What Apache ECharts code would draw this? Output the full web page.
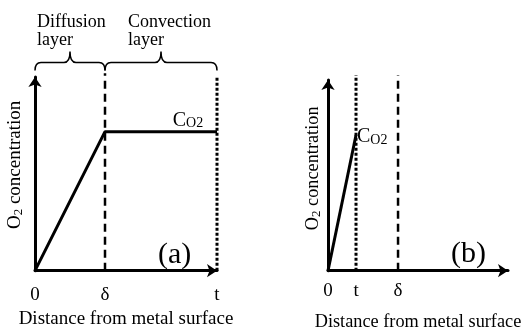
<!DOCTYPE html>
<html>
<head>
<meta charset="utf-8">
<script src="https://cdn.jsdelivr.net/npm/echarts@6/dist/echarts.min.js"></script>
<style>html,body{margin:0;padding:0;background:#fff}#c{width:522px;height:332px}</style>
</head>
<body>
<div id="c"></div>
<script>
// ---- data (schematic units: delta = 1, concentration C_O2 = 1) ----
const profileA = [[0, 0], [1, 1], [2.6, 1]];       // panel (a): diffusion then plateau
const profileB = [[0, 0], [0.4, 1]];               // panel (b): thin film t < delta
const deltaA = 1, tA = 2.6;
const deltaB = 1, tB = 0.4;
const ticksA = [0, 1, 2.6];
const tickLabelsA = ['0', 'δ', 't'];
const ticksB = [0, 0.4, 1];
const tickLabelsB = ['0', 't', 'δ'];
const bracesA = [[0, 1], [1, 2.6]];                // diffusion layer, convection layer spans
const xMaxA = 2.6, xMaxB = 2.57;
const yMaxA = 1.393, yMaxB = 1.405;
const lineTopA = 1.42, lineTopB = 1.44;

const FONT = '"Liberation Serif", "DejaVu Serif", serif';
const chart = echarts.init(document.getElementById('c'));

function xAxis(gi, max, ticks, labels, gap, margin, fs) {
  return {
    type: 'value', gridIndex: gi, min: 0, max: max,
    name: 'Distance from metal surface', nameLocation: 'middle', nameGap: gap,
    nameTextStyle: {fontFamily: FONT, fontSize: fs, color: '#000'},
    axisLine: {show: true, symbol: ['none', 'arrow'], symbolSize: [10, 10], lineStyle: {color: '#000', width: 3}},
    axisTick: {show: false}, splitLine: {show: false},
    axisLabel: {
      show: true, customValues: ticks, margin: margin,
      fontFamily: FONT, fontSize: 19, color: '#000',
      formatter: v => { const i = ticks.findIndex(t => Math.abs(t - v) < 1e-6); return i >= 0 ? labels[i] : ''; }
    }
  };
}
function yAxis(gi, max, gap, shift, fs) {
  return {
    type: 'value', gridIndex: gi, min: 0, max: max,
    name: 'O{s|2} concentration', nameLocation: 'middle', nameGap: gap,
    nameTextStyle: {fontFamily: FONT, fontSize: fs, color: '#000', padding: [0, 0, 0, shift],
      rich: {s: {fontFamily: FONT, fontSize: 13, color: '#000', verticalAlign: 'bottom', padding: [7, 0, 0, 0]}}},
    axisLine: {show: true, symbol: ['none', 'arrow'], symbolSize: [10, 10], lineStyle: {color: '#000', width: 3}},
    axisTick: {show: false}, splitLine: {show: false}, axisLabel: {show: false}
  };
}
const coRich = {
  c: {fontFamily: FONT, fontSize: 20, color: '#000', verticalAlign: 'bottom'},
  s: {fontFamily: FONT, fontSize: 14, color: '#000', verticalAlign: 'bottom', padding: [0, 0, 0, 0]}
};

function bracePath(api, x0, x1, yv) {
  const p0 = api.coord([x0, yv]), p1 = api.coord([x1, yv]);
  const yb = p0[1], yh = yb - 8, yt = yb - 19, r = 6;
  const a = p0[0], b = p1[0], m = (a + b) / 2;
  return `M${a},${yb} Q${a},${yh} ${a + r},${yh} L${m - r},${yh} Q${m},${yh} ${m},${yt} Q${m},${yh} ${m + r},${yh} L${b - r},${yh} Q${b},${yh} ${b},${yb}`;
}

chart.setOption({
  animation: false,
  grid: [
    {left: 35, top: 77, width: 182, height: 193.7, outerBoundsMode: 'none', containLabel: false},
    {left: 328, top: 80, width: 180, height: 190.7, outerBoundsMode: 'none', containLabel: false}
  ],
  xAxis: [xAxis(0, xMaxA, ticksA, tickLabelsA, 39, 15, 19), xAxis(1, xMaxB, ticksB, tickLabelsB, 42, 11, 18.3)],
  yAxis: [yAxis(0, yMaxA, 10, 18, 19), yAxis(1, yMaxB, 5, 14, 18.3)],
  series: [
    {type: 'line', xAxisIndex: 0, yAxisIndex: 0, data: profileA, symbol: 'circle', symbolSize: 0, clip: false,
     lineStyle: {color: '#000', width: 3}, itemStyle: {color: '#000'},
     label: {show: true, position: 'top', distance: 1, offset: [-29, 0], rich: coRich,
       formatter: p => p.dataIndex === profileA.length - 1 ? '{c|C}{s|O2}' : ''}},
    {type: 'line', xAxisIndex: 0, yAxisIndex: 0, data: [[deltaA, 0], [deltaA, lineTopA]], symbol: 'none', clip: false,
     lineStyle: {color: '#000', width: 2.5, type: [8, 5]}},
    {type: 'line', xAxisIndex: 0, yAxisIndex: 0, data: [[tA, 0], [tA, yMaxA]], symbol: 'none', clip: false,
     lineStyle: {color: '#000', width: 3, type: [3, 2]}},
    {type: 'custom', xAxisIndex: 0, yAxisIndex: 0, clip: false, data: bracesA,
     renderItem: (params, api) => ({
       type: 'path', shape: {pathData: bracePath(api, api.value(0), api.value(1), 1.44)},
       style: {stroke: '#000', lineWidth: 1.5, fill: null}
     })},
    {type: 'line', xAxisIndex: 1, yAxisIndex: 1, data: profileB, symbol: 'circle', symbolSize: 0, clip: false,
     lineStyle: {color: '#000', width: 3}, itemStyle: {color: '#000'},
     label: {show: true, position: 'right', distance: 1, offset: [0, 2], rich: coRich,
       formatter: p => p.dataIndex === profileB.length - 1 ? '{c|C}{s|O2}' : ''}},
    {type: 'line', xAxisIndex: 1, yAxisIndex: 1, data: [[tB, 0], [tB, lineTopB]], symbol: 'none', clip: false,
     lineStyle: {color: '#000', width: 3, type: [3, 2]}},
    {type: 'line', xAxisIndex: 1, yAxisIndex: 1, data: [[deltaB, 0], [deltaB, lineTopB]], symbol: 'none', clip: false,
     lineStyle: {color: '#000', width: 2.5, type: [8, 5]}}
  ],
  graphic: [
    {type: 'text', left: 37, top: 13, style: {text: 'Diffusion\nlayer', font: '18px ' + FONT, fill: '#000', lineHeight: 18}},
    {type: 'text', left: 128, top: 13, style: {text: 'Convection\nlayer', font: '18px ' + FONT, fill: '#000', lineHeight: 18}},
    {type: 'text', left: 158, top: 240, style: {text: '(a)', font: '30px ' + FONT, fill: '#000'}},
    {type: 'text', left: 451, top: 239, style: {text: '(b)', font: '30px ' + FONT, fill: '#000'}}
  ]
});
</script>
</body>
</html>
